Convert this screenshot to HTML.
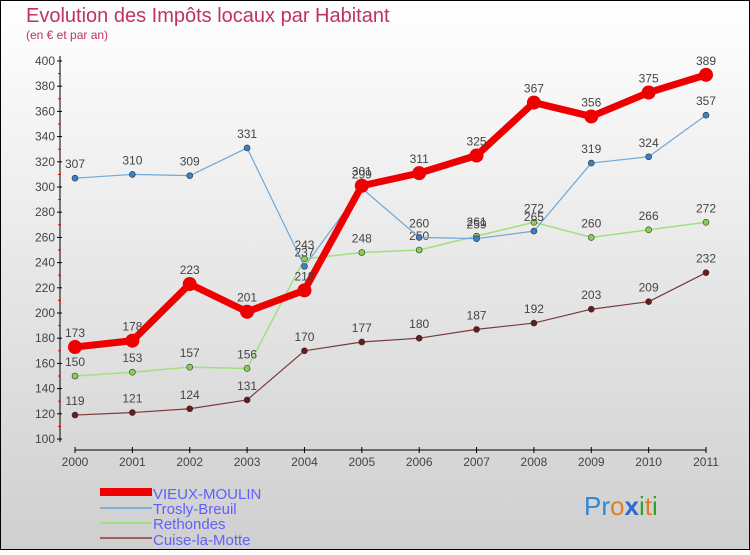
<!DOCTYPE html>
<html><head><meta charset="utf-8"><style>
html,body{margin:0;padding:0;}
body{width:750px;height:550px;overflow:hidden;font-family:"Liberation Sans",sans-serif;}
svg text{font-family:"Liberation Sans",sans-serif;}
</style></head><body>
<svg id="chart" width="750" height="550" viewBox="0 0 750 550">
<defs><linearGradient id="bg" x1="0" y1="0" x2="0" y2="1"><stop offset="0" stop-color="#ffffff"/><stop offset="1" stop-color="#cfcfcf"/></linearGradient></defs>
<rect x="0.5" y="0.5" width="749" height="549" fill="url(#bg)" stroke="#000"/>
<text x="26" y="22" font-size="20" fill="#c0306a">Evolution des Impôts locaux par Habitant</text>
<text x="26" y="39" font-size="12" fill="#c0306a">(en € et par an)</text>
<g id="axes"></g><g id="series"></g>
<g>
<rect x="100" y="488" width="52" height="8" fill="#e00"/>
<text x="153" y="499" font-size="15" fill="#6060ff">VIEUX-MOULIN</text>
<rect x="100" y="507" width="52" height="2" fill="#80b0d8"/>
<text x="153" y="514" font-size="15" fill="#6060ff">Trosly-Breuil</text>
<rect x="100" y="522" width="52" height="2" fill="#a0e080"/>
<text x="153" y="529" font-size="15" fill="#6060ff">Rethondes</text>
<rect x="100" y="537" width="52" height="2" fill="#a06060"/>
<text x="153" y="545" font-size="15" fill="#6060ff">Cuise-la-Motte</text>
</g>
<g font-size="26">
<text x="584" y="515"><tspan fill="#2a8ad8">P</tspan><tspan fill="#2a8ad8">r</tspan><tspan fill="#e08020">o</tspan><tspan fill="#2a6ad0" font-weight="bold">x</tspan><tspan fill="#30a030">i</tspan><tspan fill="#e08020">t</tspan><tspan fill="#30a030">i</tspan></text>
</g>
</svg>
<script>
const years=[2000,2001,2002,2003,2004,2005,2006,2007,2008,2009,2010,2011];
const yTicks=[100,120,140,160,180,200,220,240,260,280,300,320,340,360,380,400];
const vieuxMoulin=[173,178,223,201,218,301,311,325,367,356,375,389];
const troslyBreuil=[307,310,309,331,237,299,260,259,265,319,324,357];
const rethondes=[150,153,157,156,243,248,250,261,272,260,266,272];
const cuiseLaMotte=[119,121,124,131,170,177,180,187,192,203,209,232];
const NS="http://www.w3.org/2000/svg";
const X=i=>75+i*(706-75)/11;
const Y=v=>439-(v-100)*(439-61)/300;
function mk(tag,attrs,parent){const e=document.createElementNS(NS,tag);for(const k in attrs)e.setAttribute(k,attrs[k]);parent.appendChild(e);return e;}
const axes=document.getElementById('axes');
mk('line',{x1:60,y1:56,x2:60,y2:442,stroke:'#000'},axes);
mk('line',{x1:75,y1:450,x2:706,y2:450,stroke:'#000'},axes);
yTicks.forEach((t,i)=>{
  const tk=mk('line',{x1:57,x2:62,y1:Y(t),y2:Y(t),stroke:'#000'},axes);
  
  
  if(i<yTicks.length-1){mk('line',{x1:58,x2:61,y1:Y(t+10),y2:Y(t+10),stroke:'#e00'},axes);}
  const tx=mk('text',{x:55,y:Y(t)+4,'font-size':12,'text-anchor':'end',fill:'#444'},axes);
  tx.textContent=t;
  
  
});
years.forEach((yr,i)=>{
  mk('line',{x1:X(i),x2:X(i),y1:447,y2:453,stroke:'#000'},axes);
  const tx=mk('text',{x:X(i),y:466,'font-size':12,'text-anchor':'middle',fill:'#444'},axes);
  tx.textContent=yr;
  
  
});
const sg=document.getElementById('series');
function draw(name,vals,color,w,r,dot){
  const g=mk('g',{},sg);
  
  
  const l=mk('polyline',{points:vals.map((v,i)=>X(i)+','+Y(v)).join(' '),fill:'none',stroke:color,'stroke-width':w,'stroke-linejoin':'round'},g);
  
  
  vals.forEach((v,i)=>{
    const c=mk('circle',{cx:X(i),cy:Y(v),r:r,fill:dot,stroke:'#333','stroke-width':r>4?0:0.6},g);
    
    
    const t=mk('text',{x:X(i),y:Y(v)-10,'font-size':12,'text-anchor':'middle',fill:'#444'},g);
    t.textContent=v;
    
    
  });
}
draw('cuise-la-motte',cuiseLaMotte,'#7a3a3a',1.2,3,'#6a1a1a');
draw('rethondes',rethondes,'#a0e080',1.5,3,'#8ad050');
draw('trosly-breuil',troslyBreuil,'#70a8d8',1.2,3,'#3a80c8');
draw('vieux-moulin',vieuxMoulin,'#ee0000',7,7,'#ee0000');
</script>
</body></html>
